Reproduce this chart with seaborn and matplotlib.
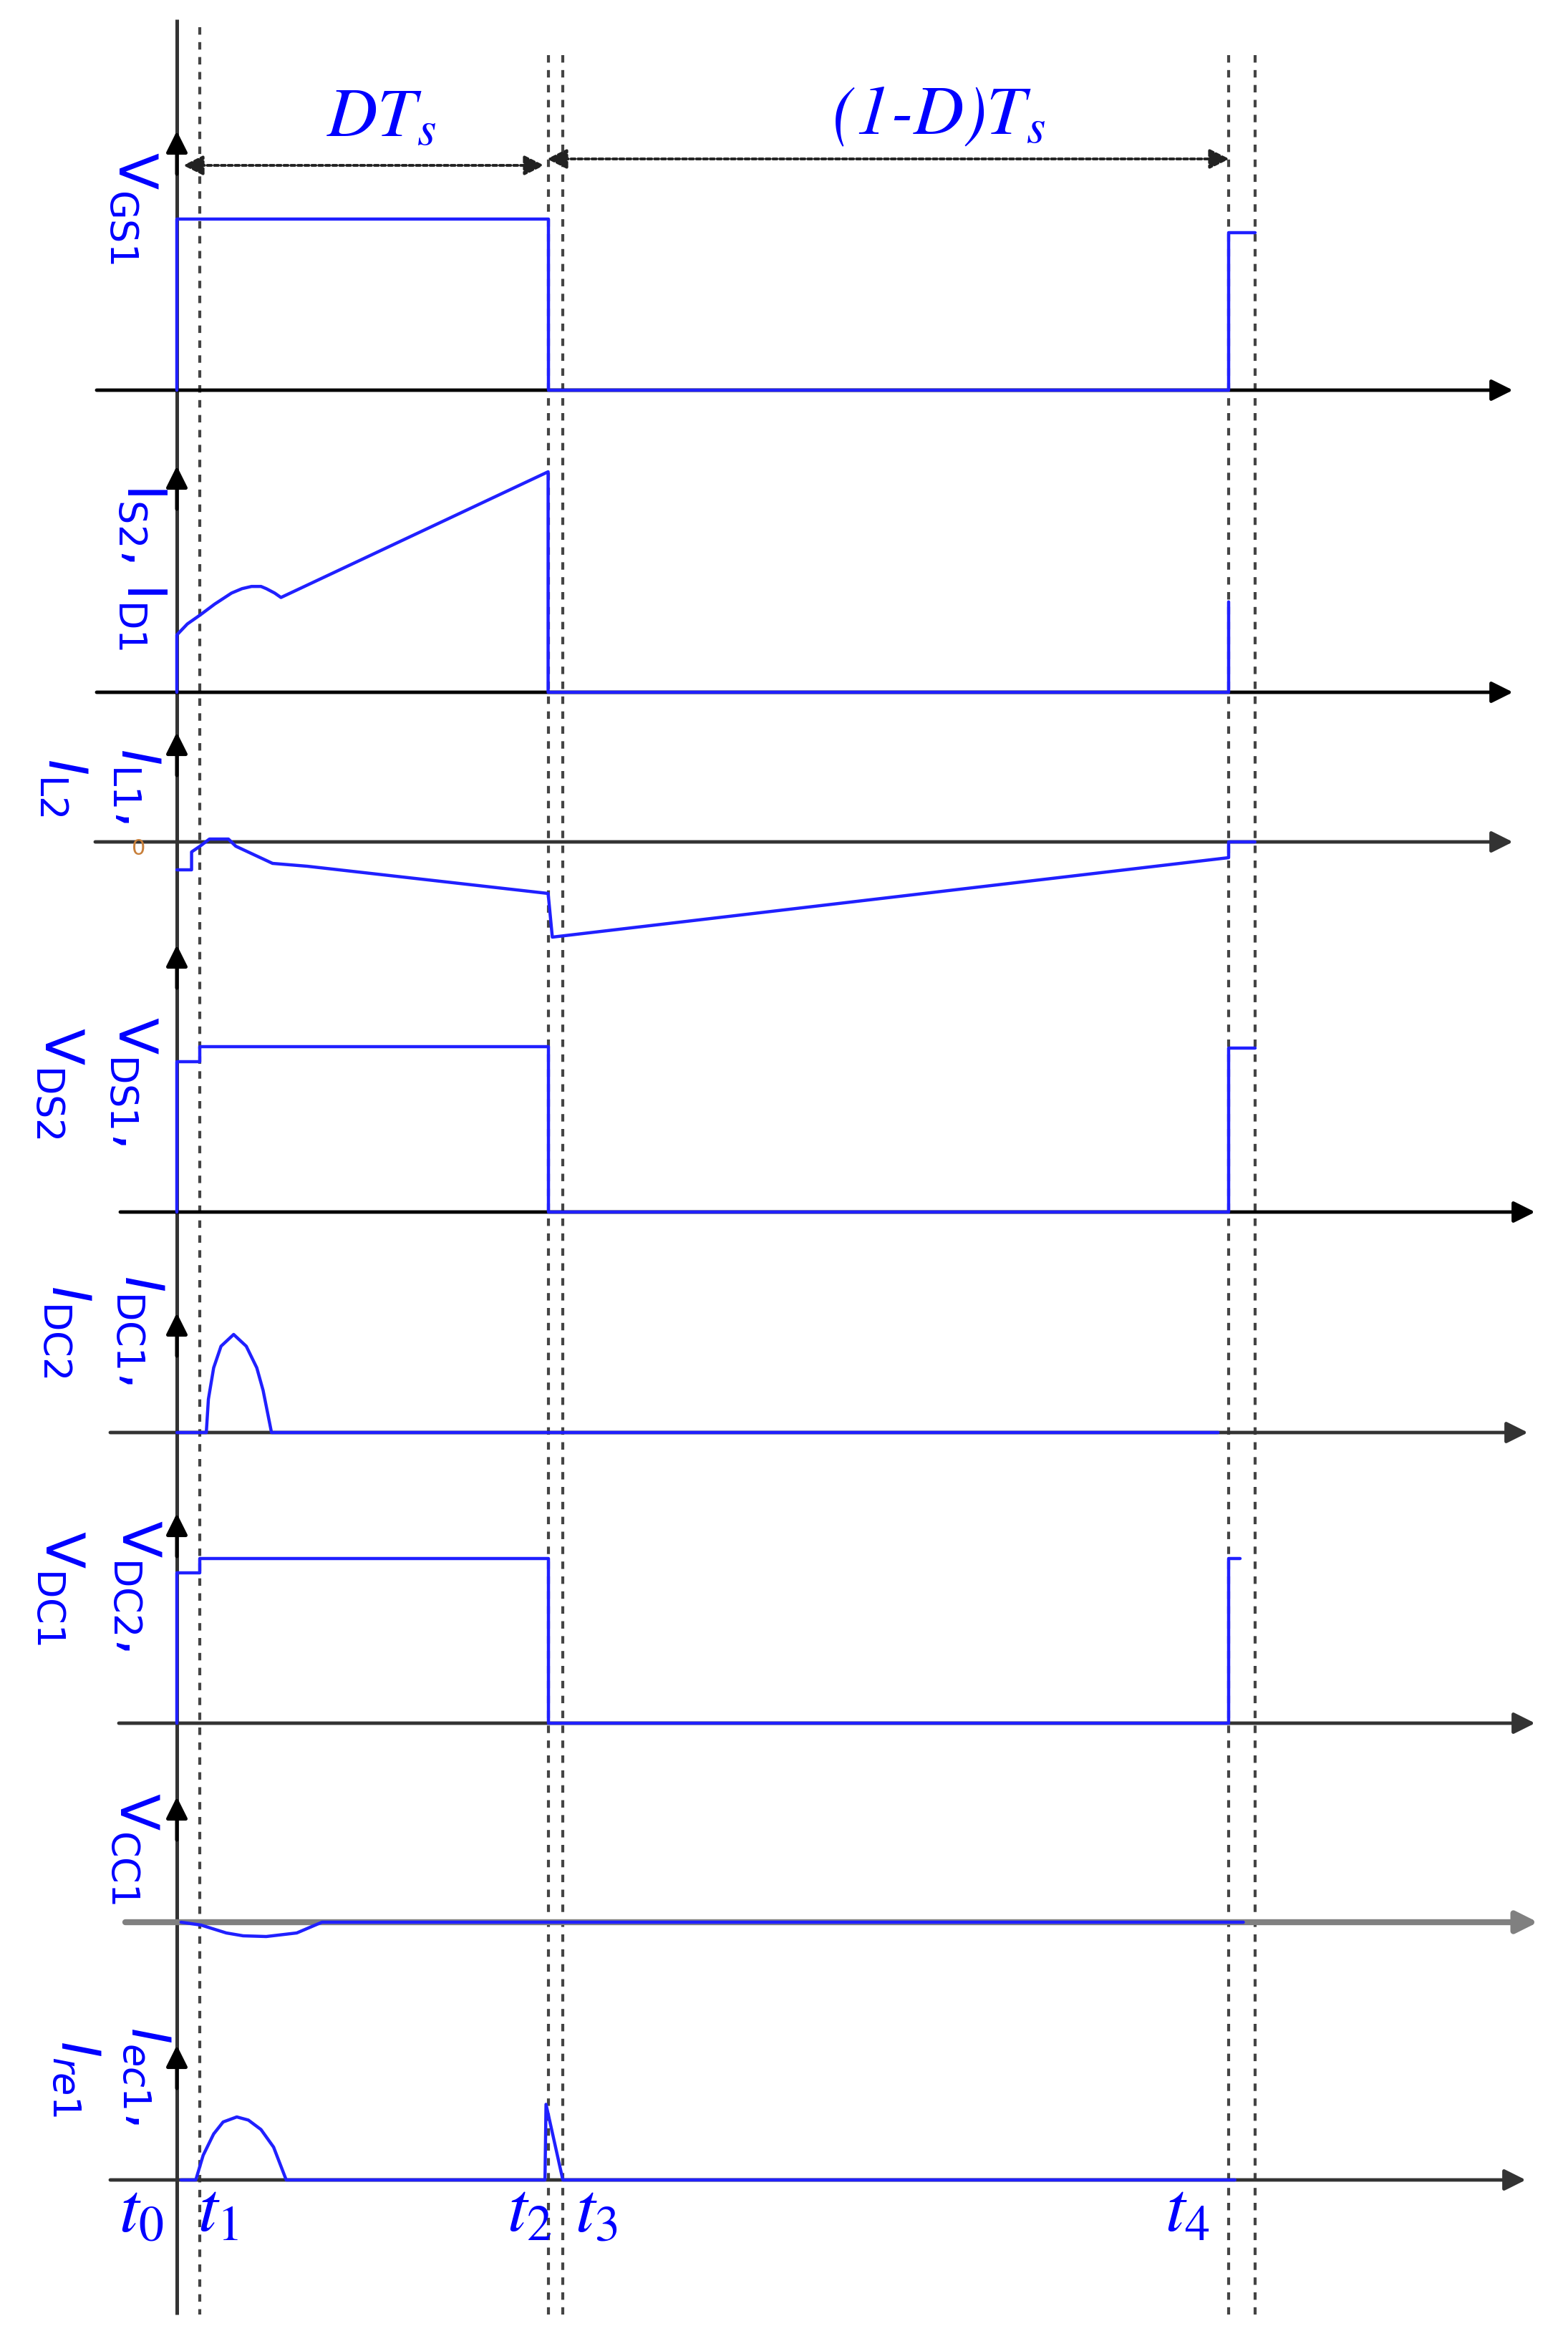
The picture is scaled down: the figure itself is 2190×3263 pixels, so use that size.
import numpy as np
import pandas as pd
import seaborn as sns
import matplotlib.pyplot as plt

sns.set_style("white")
plt.rcParams['font.family'] = ['DejaVu Sans']
plt.rcParams['mathtext.fontset'] = 'dejavusans'

blue = '#2020ff'
text_blue = '#0000ff'
dark = '#333333'
dot_grey = '#444444'

# picture size and horizontal mapping: t0 sits at x=247 px, one period Ts spans 1469 px
W, H = 2190, 3263
X0, XS = 247, 1469


def X(px):
    return (px - X0) / XS


# switching instants, in units of Ts
time_names = ['$t_{\\mathit{0}}$', '$t_{\\mathit{1}}$', '$t_{\\mathit{2}}$', '$t_{\\mathit{3}}$', '$t_{\\mathit{4}}$']
time_marks = [0.0, 0.022, 0.353, 0.367, 1.0]
t4_end = 1.025

# === waveforms (time in Ts, amplitude normalised per panel) ===
vgs1_t = [0, 0, 0.353, 0.353, 1.0, 1.0, 1.025]
vgs1_v = [0, 1, 1, 0, 0, 0.92, 0.92]

is2_t = [0, 0, 0.010, 0.022, 0.036, 0.052, 0.062, 0.071, 0.080, 0.085, 0.093, 0.099, 0.353, 0.353, 1.0, 1.0]
is2_v = [0, 0.26, 0.31, 0.35, 0.40, 0.45, 0.47, 0.48, 0.48, 0.47, 0.45, 0.43, 1.0, 0, 0, 0.41]

il_t = [0, 0.014, 0.014, 0.022, 0.031, 0.049, 0.056, 0.091, 0.124, 0.353, 0.357, 1.0, 1.0, 1.025]
il_v = [-0.39, -0.39, -0.14, -0.06, 0.04, 0.04, -0.06, -0.30, -0.34, -0.72, -1.33, -0.22, 0, 0]

vds_t = [0, 0, 0.022, 0.022, 0.353, 0.353, 1.0, 1.0, 1.025]
vds_v = [0, 0.91, 0.91, 1, 1, 0, 0, 0.99, 0.99]

idc_t = [0, 0.028, 0.030, 0.035, 0.042, 0.054, 0.066, 0.076, 0.082, 0.090, 0.990]
idc_v = [0, 0, 0.34, 0.66, 0.88, 1.0, 0.88, 0.66, 0.43, 0, 0]

vdc_t = [0, 0, 0.022, 0.022, 0.353, 0.353, 1.0, 1.0, 1.011]
vdc_v = [0, 0.913, 0.913, 1, 1, 0, 0, 1, 1]

vcc_t = [0.004, 0.023, 0.047, 0.063, 0.085, 0.114, 0.138, 1.014]
vcc_v = [0, -0.04, -0.15, -0.19, -0.20, -0.15, 0, 0]

iec_t = [0.004, 0.018, 0.025, 0.035, 0.044, 0.057, 0.068, 0.080, 0.092, 0.104, 0.350, 0.351, 0.367, 1.006]
iec_v = [0, 0, 0.39, 0.73, 0.92, 1.0, 0.95, 0.80, 0.52, 0, 0, 1.2, 0, 0]

signals = [(vgs1_t, vgs1_v), (is2_t, is2_v), (il_t, il_v), (vds_t, vds_v),
           (idc_t, idc_v), (vdc_t, vdc_v), (vcc_t, vcc_v), (iec_t, iec_v)]

# panel layout in picture pixels: baseline, px per unit, h-axis span, top of v-arrow
layout = [
    dict(base=545, unit=239, left=135, right=2113, top=183, color='black', lw=3.5),
    dict(base=967, unit=308, left=135, right=2113, top=651, color='black', lw=3.5),
    dict(base=1176, unit=100, left=133, right=2113, top=1023, color=dark, lw=3.5),
    dict(base=1693, unit=231, left=168, right=2144, top=1320, color='black', lw=3.5),
    dict(base=2001, unit=137, left=154, right=2134, top=1834, color=dark, lw=3.5),
    dict(base=2407, unit=230, left=166, right=2144, top=2114, color=dark, lw=3.5),
    dict(base=2685, unit=100, left=175, right=2148, top=2510, color='#808080', lw=6),
    dict(base=3045, unit=88, left=154, right=2131, top=2857, color=dark, lw=3.5),
]

# rotated panel labels: (text, x px, y px)
panel_labels = [
    (r'V$_{\mathrm{GS1}}$', 186, 290),
    (r'I$_{\mathrm{S2}}$, I$_{\mathrm{D1}}$', 198, 792),
    (r'$I_{\mathrm{L1}}$,', 190, 1098),
    (r'$I_{\mathrm{L2}}$', 88, 1100),
    (r'V$_{\mathrm{DS1}}$,', 186, 1510),
    (r'V$_{\mathrm{DS2}}$', 83, 1513),
    (r'$I_{\mathrm{DC1}}$,', 195, 1858),
    (r'$I_{\mathrm{DC2}}$', 93, 1860),
    (r'V$_{\mathrm{DC2}}$,', 191, 2215),
    (r'V$_{\mathrm{DC1}}$', 84, 2218),
    (r'V$_{\mathrm{CC1}}$', 188, 2582),
    (r'$I_{ec1}$,', 204, 2900),
    (r'$I_{re1}$', 106, 2903),
]
time_label_x = [198, 305, 740, 833, 1658]

xlim = (X(0), X(W))

fig = plt.figure(figsize=(W / 100, H / 100), dpi=100)
bg = fig.add_axes([0, 0, 1, 1])
bg.set_xlim(xlim)
bg.set_ylim(H, 0)
bg.axis('off')

# dotted time markers
for t in time_marks[1:] + [t4_end]:
    y_top = 38 if t == time_marks[1] else 77
    bg.plot([t, t], [y_top, 3233], ls=(0, (2.5, 2.5)), lw=3, color=dot_grey)

# vertical axis
bg.plot([0, 0], [27, 3233], color=dark, lw=3.6, solid_capstyle='butt')

arrow_kw = dict(arrowstyle='-|>', shrinkA=0, shrinkB=0, mutation_scale=45)
for p in layout:
    bg.annotate('', xy=(X(p['right']), p['base']), xytext=(X(p['left']), p['base']),
                arrowprops=dict(color=p['color'], lw=p['lw'], **arrow_kw))
    bg.annotate('', xy=(0, p['top']), xytext=(0, p['top'] + 60),
                arrowprops=dict(color='black', lw=3.6, **arrow_kw))

# DTs and (1-D)Ts dimension arrows
dim_kw = dict(arrowstyle='<|-|>', shrinkA=0, shrinkB=0, mutation_scale=42,
              color='#222222', lw=2.8, linestyle=(0, (1.5, 1)))
bg.annotate('', xy=(X(760), 231), xytext=(X(256), 231), arrowprops=dim_kw)
bg.annotate('', xy=(X(1717), 222), xytext=(X(764), 222), arrowprops=dim_kw)

stix = dict(family='STIXGeneral', style='italic', math_fontfamily='stix',
            color=text_blue, ha='center', va='center')
bg.text(X(533), 168, r'DT$_s$', fontsize=70, **stix)
bg.text(X(1311), 163, r'(1-D)T$_s$', fontsize=70, **stix)

for name, px in zip(time_names, time_label_x):
    bg.text(X(px), 3093, name, fontsize=72, **stix)

for label, px, py in panel_labels:
    bg.text(X(px), py, label, rotation=270, fontsize=54, color=text_blue,
            ha='center', va='center')

bg.text(X(194), 1186, '0', fontsize=22, color='#c87f3a', ha='center', va='center')

# waveforms, one transparent axes per panel sharing the time scale
for p, (t, v) in zip(layout, signals):
    ax = fig.add_axes([0, 0, 1, 1])
    ax.set_xlim(xlim)
    ax.set_ylim((p['base'] - H) / p['unit'], p['base'] / p['unit'])
    ax.patch.set_alpha(0)
    ax.axis('off')
    sns.lineplot(x=t, y=v, ax=ax, sort=False, estimator=None, color=blue, lw=3.2)

plt.savefig('out.png', dpi=100)
plt.close()
